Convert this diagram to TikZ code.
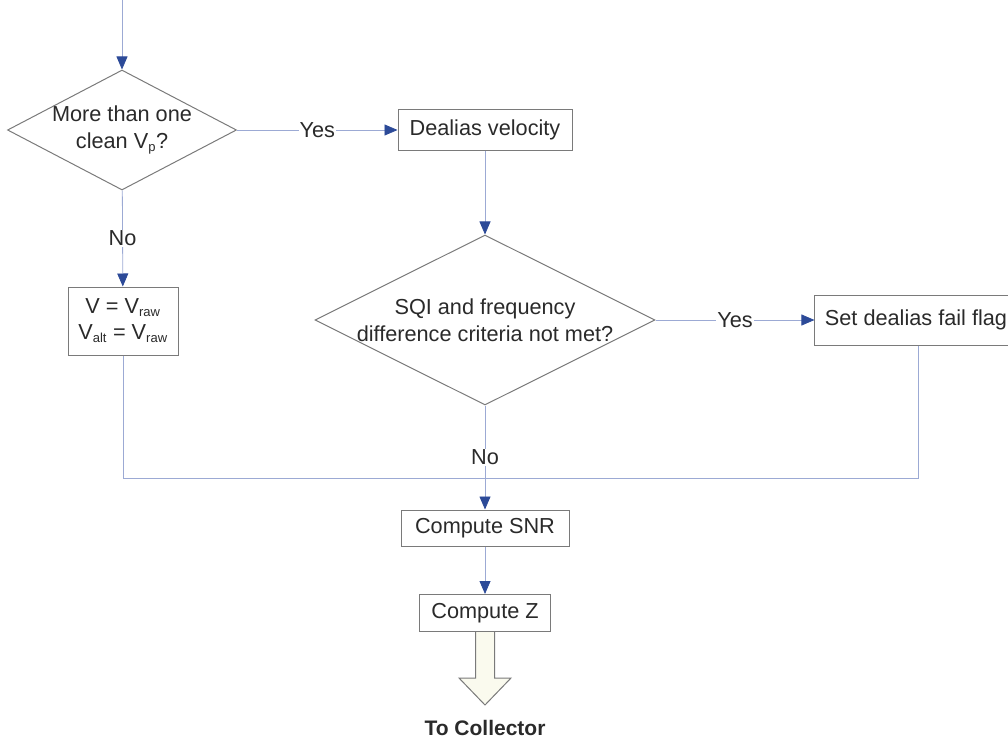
\documentclass[tikz,border=0pt]{standalone}
\usepackage{fontspec}
\setmainfont{Liberation Sans}
\usepackage{tikz}
\usetikzlibrary{arrows.meta}
\usetikzlibrary{shapes.geometric}
\usetikzlibrary{calc}
\definecolor{linec}{HTML}{9CAAD4}
\definecolor{tipc}{HTML}{2C4A98}
\definecolor{boxc}{HTML}{7A7A7A}
\definecolor{txtc}{HTML}{2A2A2A}
\definecolor{bigc}{HTML}{FAFAEE}
\newcommand{\sbs}[1]{\textsubscript{\fontsize{13}{13}\selectfont #1}}
\tikzset{t/.style={font=\fontsize{21.7}{30}\selectfont,text=txtc}}
\tikzset{b/.style={t,draw=boxc,line width=1pt,align=center,inner xsep=10pt,inner ysep=2pt}}
\tikzset{d/.style={t,draw=boxc,line width=1pt,diamond,aspect=2,inner sep=0pt,align=center}}
\tikzset{c/.style={draw=linec,line width=0.8pt,-{Triangle[width=11pt,length=13pt,color=tipc]}}}
\tikzset{cl/.style={draw=linec,line width=0.8pt}}
\tikzset{l/.style={t,fill=white,inner sep=1pt}}

\begin{document}
\begin{tikzpicture}[x=1pt,y=-1pt]
  \useasboundingbox (0,0) rectangle (1008,741);
  \coordinate (top) at (122,0);
  \node[d,inner sep=-5pt,minimum width=229pt,minimum height=120pt] (q1) at (122,130) {More than one\\[-3pt]clean V\sbs{p}?};
  \node[b,minimum width=174pt,minimum height=40pt] (dv) at (485,130) {Dealias velocity};
  \node[d,inner sep=-1pt,minimum width=340pt,minimum height=170pt] (q2) at (485,320) {SQI and frequency\\[-3pt]difference criteria not met?};
  \node[b,minimum width=192pt,minimum height=50pt] (flag) at (916,320) {Set dealias fail flag};
  \node[b,minimum width=110pt,minimum height=68pt] (vbox) at (123,321) {V = V\sbs{raw}\\[-4pt]V\sbs{alt} = V\sbs{raw}};
  \coordinate (join) at (485,478);
  \node[b,minimum width=168pt,minimum height=36pt] (snr) at (485,528) {Compute SNR};
  \node[b,minimum width=131pt,minimum height=37pt] (cz) at (485,613) {Compute Z};
  \node[t,font=\fontsize{21}{25}\selectfont\bfseries] (tc) at (485,728) {To Collector};

  \draw[c] (top) -- (q1);
  \draw[c] (q1) -- node[l] {Yes} (dv);
  \draw[c] (q1) -- node[l] {No} (vbox);
  \draw[c] (dv) -- (q2);
  \draw[c] (q2) -- node[l] {Yes} (flag);
  \draw[cl] (vbox) |- (join);
  \draw[cl] (flag.south -| 918,0) |- (join);
  \draw[c] (q2) -- node[l] {No} (snr);
  \draw[c] (snr) -- (cz);
  \filldraw[draw=boxc,fill=bigc,line width=1pt] ($(cz.south)+(-9.5,0)$) -- ++(0,46) -- ++(-16.5,0)
    -- ($(cz.south)+(0,73)$) -- ++(26,-27) -- ++(-16.5,0) -- ($(cz.south)+(9.5,0)$);
\end{tikzpicture}
\end{document}
